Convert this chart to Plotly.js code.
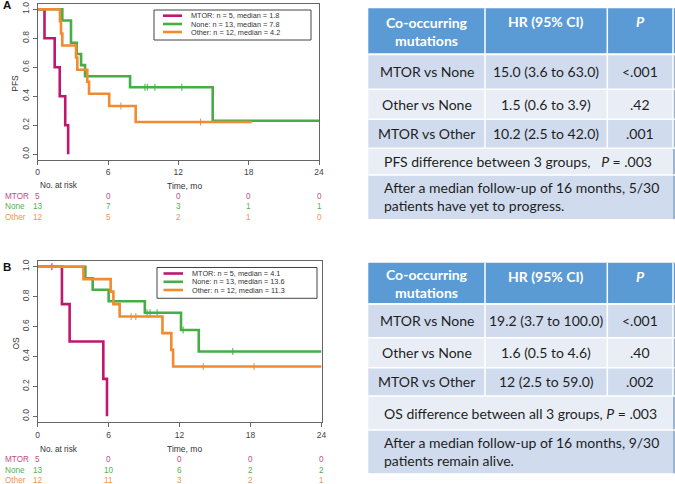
<!DOCTYPE html>
<html><head><meta charset="utf-8">
<script src="https://cdn.plot.ly/plotly-3.0.1.min.js"></script>
<style>html,body{margin:0;padding:0;background:#fff}#chart{width:675px;height:484px}</style>
</head><body><div id="chart"></div>
<script>
// ---------------- DATA ----------------
const groups = ['MTOR', 'None', 'Other'];

// Panel A: progression-free survival (Kaplan-Meier steps)
const pfsMtorT  = [0, 0.58, 1.45, 1.88, 2.35, 2.6];
const pfsMtorS  = [1, 0.8, 0.6, 0.4, 0.2, 0];
const pfsMtorCens = [];
const pfsNoneT  = [0, 2.1, 2.84, 3.33, 3.7, 4.04, 7.88, 14.93, 24];
const pfsNoneS  = [1, 0.923, 0.769, 0.692, 0.615, 0.538, 0.462, 0.231, 0.231];
const pfsNoneCens = [9.15, 9.35, 10.0, 12.3];
const pfsOtherT = [0, 1.9, 1.99, 2.1, 3.27, 3.38, 4.23, 4.38, 6.1, 8.36, 18.26];
const pfsOtherS = [1, 0.917, 0.833, 0.75, 0.667, 0.583, 0.5, 0.417, 0.333, 0.222, 0.222];
const pfsOtherCens = [7.1, 13.9];

// Panel B: overall survival
const osMtorT  = [0, 2.05, 2.7, 5.55, 5.86];
const osMtorS  = [1, 0.75, 0.5, 0.25, 0];
const osMtorCens = [1.2];
const osNoneT  = [0, 4.03, 4.65, 6.0, 9.06, 12.12, 13.62, 24];
const osNoneS  = [1, 0.923, 0.846, 0.769, 0.692, 0.577, 0.433, 0.433];
const osNoneCens = [9.25, 9.5, 10.1, 12.3, 16.5];
const osOtherT = [0, 3.87, 6.17, 6.4, 6.93, 10.55, 11.3, 11.45, 24];
const osOtherS = [1, 0.917, 0.833, 0.75, 0.667, 0.556, 0.444, 0.333, 0.333];
const osOtherCens = [7.9, 8.3, 14.0, 18.3];

// Numbers at risk
const riskTimes = [0, 6, 12, 18, 24];
const pfsRiskMtor  = [5, 0, 0, 0, 0];
const pfsRiskNone  = [13, 7, 3, 1, 1];
const pfsRiskOther = [12, 5, 2, 1, 0];
const osRiskMtor   = [5, 0, 0, 0, 0];
const osRiskNone   = [13, 10, 6, 2, 2];
const osRiskOther  = [12, 11, 3, 2, 1];

const xTicks = [0, 6, 12, 18, 24];
const yTicks = [0, 0.2, 0.4, 0.6, 0.8, 1.0];

const pfsLegend = ['MTOR: n = 5, median = 1.8', 'None: n = 13, median = 7.8', 'Other: n = 12, median = 4.2'];
const osLegend  = ['MTOR: n = 5, median = 4.1', 'None: n = 13, median = 13.6', 'Other: n = 12, median = 11.3'];

// Tables
const tableHeader = ['Co-occurring<br>mutations', 'HR (95% CI)', '<i>P</i>'];
const pfsComparisons = ['MTOR vs None', 'Other vs None', 'MTOR vs Other'];
const pfsHR = ['15.0 (3.6 to 63.0)', '1.5 (0.6 to 3.9)', '10.2 (2.5 to 42.0)'];
const pfsP  = ['&lt;.001', '.42', '.001'];
const pfsOverall = 'PFS difference between 3 groups,   <i>P</i> = .003';
const pfsNote = ['After a median follow-up of 16 months, 5/30', 'patients have yet to progress.'];
const osComparisons = ['MTOR vs None', 'Other vs None', 'MTOR vs Other'];
const osHR = ['19.2 (3.7 to 100.0)', '1.6 (0.5 to 4.6)', '12 (2.5 to 59.0)'];
const osP  = ['&lt;.001', '.40', '.002'];
const osOverall = 'OS difference between all 3 groups, <i>P</i> = .003';
const osNote = ['After a median follow-up of 16 months, 9/30', 'patients remain alive.'];

// ---------------- STYLE ----------------
const lineColors = ['#C0176E', '#45AE47', '#F28A2E'];
const riskColors = ['#C54A8A', '#55B055', '#F2954A'];
const W = 675, H = 484;
const PX = p => p / W;
const PY = p => 1 - p / H;
const plotFont = 'Liberation Sans, Arial, sans-serif';
const tabFont = 'Lato, Open Sans, sans-serif';

const panels = [
  {key: '', ax: 'x', ay: 'y', left: 37.7, right: 319, top: 3.5, bottom: 160,
   curves: [[pfsMtorT, pfsMtorS, pfsMtorCens], [pfsNoneT, pfsNoneS, pfsNoneCens], [pfsOtherT, pfsOtherS, pfsOtherCens]],
   risk: [pfsRiskMtor, pfsRiskNone, pfsRiskOther], legend: pfsLegend, ytitle: 'PFS', label: 'A',
   leg: {x0: 154, x1: 311, y0: 10, y1: 40, lx0: 163, lx1: 182, tx: 189, ys: [15.7, 24, 32]},
   titleY: 185.7, riskY: [196.7, 207, 217.3], labelY: 5.5},
  {key: '2', ax: 'x2', ay: 'y2', left: 37.7, right: 321.5, top: 260.7, bottom: 422.3,
   curves: [[osMtorT, osMtorS, osMtorCens], [osNoneT, osNoneS, osNoneCens], [osOtherT, osOtherS, osOtherCens]],
   risk: [osRiskMtor, osRiskNone, osRiskOther], legend: osLegend, ytitle: 'OS', label: 'B',
   leg: {x0: 157, x1: 317, y0: 267.5, y1: 298.3, lx0: 163.5, lx1: 183, tx: 190, ys: [273.5, 281.8, 290]},
   titleY: 449.3, riskY: [459.5, 470, 480.5], labelY: 267}
];

function survAt(T, S, t) {
  let s = S[0];
  for (let i = 0; i < T.length; i++) if (T[i] <= t) s = S[i];
  return s;
}

const traces = [];
const shapes = [];
const annotations = [];
const layout = {
  width: W, height: H, margin: {l: 0, r: 0, t: 0, b: 0},
  paper_bgcolor: '#fff', plot_bgcolor: '#fff', showlegend: false,
  shapes: shapes, annotations: annotations
};

panels.forEach(p => {
  p.curves.forEach((c, gi) => {
    traces.push({x: c[0], y: c[1], xaxis: p.ax, yaxis: p.ay, type: 'scatter', mode: 'lines',
      line: {shape: 'hv', color: lineColors[gi], width: 2.6}, hoverinfo: 'skip', name: groups[gi]});
    if (c[2].length) {
      traces.push({x: c[2], y: c[2].map(t => survAt(c[0], c[1], t)), xaxis: p.ax, yaxis: p.ay,
        type: 'scatter', mode: 'markers', hoverinfo: 'skip',
        marker: {symbol: 'line-ns-open', size: 5, color: lineColors[gi], line: {color: lineColors[gi], width: 1}}});
    }
  });
  const axCommon = {showline: true, mirror: true, linecolor: '#666', linewidth: 1, showgrid: false,
    zeroline: false, ticks: 'outside', ticklen: 4, tickcolor: '#666', tickwidth: 1,
    tickfont: {family: plotFont, size: 8.5, color: '#444'}, fixedrange: true};
  layout['xaxis' + p.key] = Object.assign({}, axCommon, {
    domain: [PX(p.left), PX(p.right)], range: [0, 24], tickvals: xTicks, anchor: p.ay});
  layout['yaxis' + p.key] = Object.assign({}, axCommon, {
    domain: [PY(p.bottom), PY(p.top)], range: [-0.04, 1.04], tickvals: yTicks, tickformat: '.1f',
    tickangle: -90, anchor: p.ax});
  // legend box
  shapes.push({type: 'rect', xref: 'paper', yref: 'paper', x0: PX(p.leg.x0), x1: PX(p.leg.x1),
    y0: PY(p.leg.y1), y1: PY(p.leg.y0), line: {color: '#444', width: 1}, fillcolor: 'rgba(255,255,255,0)'});
  p.legend.forEach((txt, gi) => {
    shapes.push({type: 'line', xref: 'paper', yref: 'paper', x0: PX(p.leg.lx0), x1: PX(p.leg.lx1),
      y0: PY(p.leg.ys[gi]), y1: PY(p.leg.ys[gi]), line: {color: lineColors[gi], width: 2.6}});
    annotations.push({text: txt, xref: 'paper', yref: 'paper', x: PX(p.leg.tx), y: PY(p.leg.ys[gi]),
      xanchor: 'left', yanchor: 'middle', showarrow: false, font: {family: plotFont, size: 7.3, color: '#333'}});
  });
  // titles
  annotations.push({text: 'Time, mo', xref: 'paper', yref: 'paper', x: PX(184), y: PY(p.titleY),
    xanchor: 'center', yanchor: 'middle', showarrow: false, font: {family: plotFont, size: 8.5, color: '#333'}});
  annotations.push({text: 'No. at risk', xref: 'paper', yref: 'paper', x: PX(38), y: PY(p.titleY),
    xanchor: 'left', yanchor: 'middle', showarrow: false, font: {family: plotFont, size: 8.2, color: '#333'}});
  annotations.push({text: p.ytitle, xref: 'paper', yref: 'paper', x: PX(15), y: PY((p.top + p.bottom) / 2 + 2),
    xanchor: 'center', yanchor: 'middle', textangle: -90, showarrow: false, font: {family: plotFont, size: 8.5, color: '#333'}});
  annotations.push({text: '<b>' + p.label + '</b>', xref: 'paper', yref: 'paper', x: PX(1), y: PY(p.labelY),
    xanchor: 'left', yanchor: 'middle', showarrow: false, font: {family: plotFont, size: 11.5, color: '#111'}});
  // risk table
  p.risk.forEach((row, gi) => {
    annotations.push({text: groups[gi], xref: 'paper', yref: 'paper', x: PX(3), y: PY(p.riskY[gi]),
      xanchor: 'left', yanchor: 'middle', showarrow: false, font: {family: plotFont, size: 8.2, color: riskColors[gi]}});
    row.forEach((n, ti) => {
      annotations.push({text: String(n), xref: p.ax, yref: 'paper', x: riskTimes[ti], y: PY(p.riskY[gi]),
        xanchor: 'center', yanchor: 'middle', showarrow: false, font: {family: plotFont, size: 8.2, color: riskColors[gi]}});
    });
  });
});

// ---------------- TABLES ----------------
const tables = [
  {ys: [8.3, 54.3, 89.3, 119.3, 148.3, 175, 219], comps: pfsComparisons, hr: pfsHR, p: pfsP,
   overall: pfsOverall, note: pfsNote},
  {ys: [262.7, 304, 337.7, 367.7, 396, 430, 473.3], comps: osComparisons, hr: osHR, p: osP,
   overall: osOverall, note: osNote}
];
const tL = 368.3, tR = 675, c1 = 485, c2 = 607.3, cEnd = 673;
const headC = '#5B9BD5', darkRow = '#D0DCEE', lightRow = '#E9EEF6';
tables.forEach(t => {
  const fills = [headC, darkRow, lightRow, darkRow, lightRow, darkRow];
  for (let r = 0; r < 6; r++) {
    shapes.push({type: 'rect', xref: 'paper', yref: 'paper', layer: 'below', x0: PX(tL), x1: PX(tR),
      y0: PY(t.ys[r + 1]), y1: PY(t.ys[r]), line: {width: 0}, fillcolor: fills[r]});
  }
  shapes.push({type: 'rect', xref: 'paper', yref: 'paper', layer: 'below', x0: PX(cEnd), x1: PX(tR),
    y0: PY(t.ys[6]), y1: PY(t.ys[1]), line: {width: 0}, fillcolor: '#9FB3CF'});
  for (let r = 1; r < 6; r++) {
    shapes.push({type: 'line', xref: 'paper', yref: 'paper', layer: 'below', x0: PX(tL), x1: PX(tR),
      y0: PY(t.ys[r]), y1: PY(t.ys[r]), line: {color: '#fff', width: r === 1 ? 2 : 1.5}});
  }
  [c1, c2, cEnd].forEach(cx => {
    shapes.push({type: 'line', xref: 'paper', yref: 'paper', layer: 'below', x0: PX(cx), x1: PX(cx),
      y0: PY(t.ys[4]), y1: PY(t.ys[0]), line: {color: '#fff', width: 1.5}});
  });
  const colX = [(tL + c1) / 2, (c1 + c2) / 2, (c2 + cEnd) / 2];
  tableHeader.forEach((h, i) => {
    annotations.push({text: '<b>' + h + '</b>', xref: 'paper', yref: 'paper', x: PX(colX[i]),
      y: PY(i === 0 ? (t.ys[0] + t.ys[1]) / 2 + 0.5 : t.ys[0] + 13.5), xanchor: 'center', yanchor: 'middle', showarrow: false,
      font: {family: tabFont, size: 14, color: '#fff'}});
  });
  for (let r = 0; r < 3; r++) {
    const cy = PY((t.ys[r + 1] + t.ys[r + 2]) / 2);
    [t.comps[r], t.hr[r], t.p[r]].forEach((txt, i) => {
      annotations.push({text: txt, xref: 'paper', yref: 'paper', x: PX(colX[i]), y: cy,
        xanchor: 'center', yanchor: 'middle', showarrow: false, font: {family: tabFont, size: 14, color: '#1e1e1e'}});
    });
  }
  annotations.push({text: t.overall, xref: 'paper', yref: 'paper', x: PX(381.5), y: PY((t.ys[4] + t.ys[5]) / 2),
    xanchor: 'left', yanchor: 'middle', showarrow: false, font: {family: tabFont, size: 14, color: '#1e1e1e'}});
  annotations.push({text: t.note.join('<br>'), xref: 'paper', yref: 'paper', x: PX(381.5), y: PY((t.ys[5] + t.ys[6]) / 2),
    xanchor: 'left', yanchor: 'middle', align: 'left', showarrow: false, font: {family: tabFont, size: 14, color: '#1e1e1e'}});
});

Plotly.newPlot('chart', traces, layout, {staticPlot: true, displayModeBar: false});
</script>
</body></html>
